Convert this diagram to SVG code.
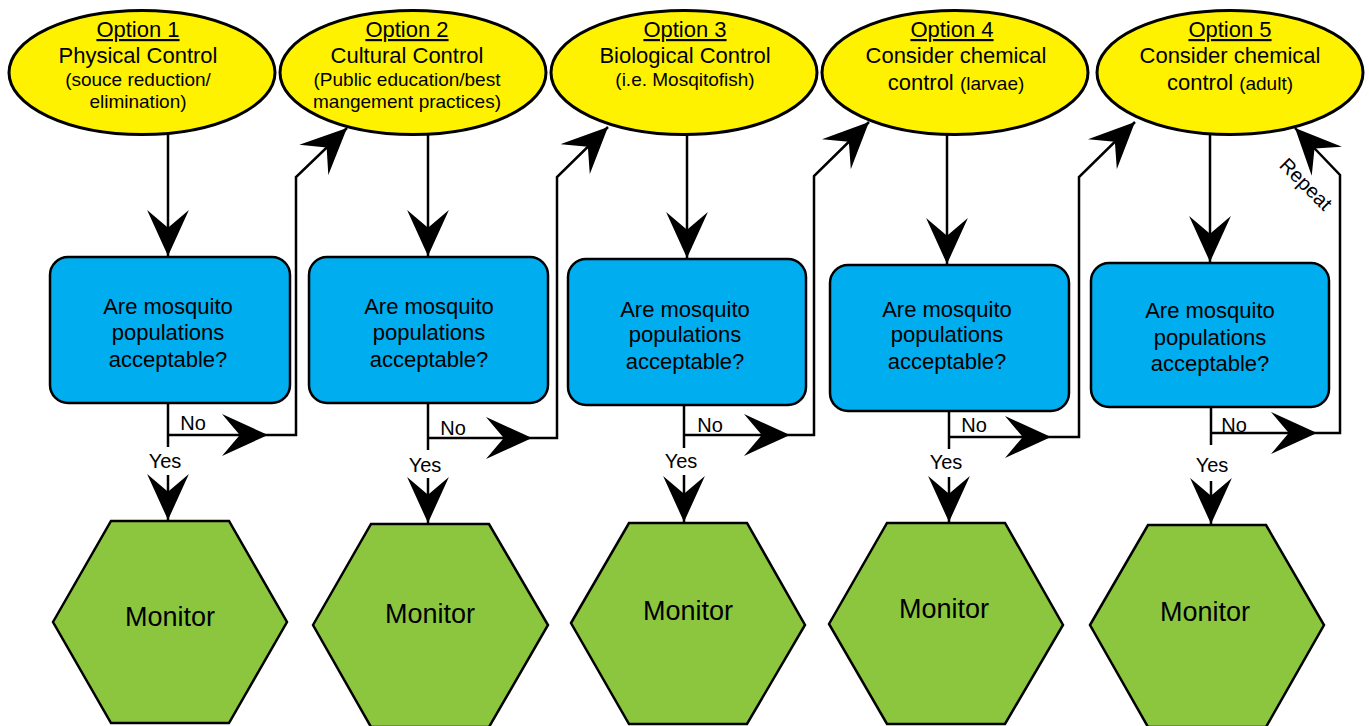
<svg xmlns="http://www.w3.org/2000/svg" width="1369" height="726" viewBox="0 0 1369 726">
<style>
.opt{fill:#FFF200;stroke:#000;stroke-width:3}
.box{fill:#00ADEF;stroke:#000;stroke-width:2.5}
.hex{fill:#8CC63F;stroke:#000;stroke-width:2.5}
text{font-family:"Liberation Sans",Arial,sans-serif;fill:#000;text-anchor:middle}
.t{font-size:22px}
.s{font-size:19px}
.lbl{font-size:20px}
.mon{font-size:27px}
.u{text-decoration:underline}
.c path{fill:none;stroke:#000;stroke-width:2.5}
</style>
<defs>
<marker id="ah" markerUnits="userSpaceOnUse" markerWidth="46" markerHeight="42" viewBox="0 0 44 40" refX="44" refY="20" orient="auto">
<path d="M0,0 L44,20 L0,40 L17,20 Z" fill="#000"/>
</marker>
</defs>
<rect width="1369" height="726" fill="#fff"/>

<g id="option1">
<ellipse class="opt" cx="142" cy="72.5" rx="133" ry="62"/>
<text class="t u" x="138" y="37">Option 1</text>
<text class="t" x="138" y="63">Physical Control</text>
<text class="s" x="138" y="86">(souce reduction/</text>
<text class="s" x="138" y="108">elimination)</text>
</g>
<g id="option2">
<ellipse class="opt" cx="413" cy="72.5" rx="133" ry="62"/>
<text class="t u" x="407" y="37">Option 2</text>
<text class="t" x="407" y="63">Cultural Control</text>
<text class="s" x="407" y="86">(Public education/best</text>
<text class="s" x="407" y="108">mangement practices)</text>
</g>
<g id="option3">
<ellipse class="opt" cx="684" cy="72.5" rx="133" ry="62"/>
<text class="t u" x="685" y="37">Option 3</text>
<text class="t" x="685" y="63">Biological Control</text>
<text class="s" x="685" y="86">(i.e. Mosqitofish)</text>
</g>
<g id="option4">
<ellipse class="opt" cx="955" cy="72.5" rx="133" ry="62"/>
<text class="t u" x="952" y="37">Option 4</text>
<text class="t" x="956" y="63">Consider chemical</text>
<text class="t" x="956" y="90">control <tspan class="s">(larvae)</tspan></text>
</g>
<g id="option5">
<ellipse class="opt" cx="1230" cy="72.5" rx="133" ry="62"/>
<text class="t u" x="1230" y="37">Option 5</text>
<text class="t" x="1230" y="63">Consider chemical</text>
<text class="t" x="1230" y="90">control <tspan class="s">(adult)</tspan></text>
</g>

<g id="decision1">
<rect class="box" x="50" y="257" width="240" height="146" rx="18"/>
<text class="t" x="168" y="314">Are mosquito</text>
<text class="t" x="168" y="340">populations</text>
<text class="t" x="168" y="367">acceptable?</text>
</g>
<g id="decision2">
<rect class="box" x="309" y="257" width="239" height="146" rx="18"/>
<text class="t" x="429" y="314">Are mosquito</text>
<text class="t" x="429" y="340">populations</text>
<text class="t" x="429" y="367">acceptable?</text>
</g>
<g id="decision3">
<rect class="box" x="568" y="259" width="238" height="146" rx="18"/>
<text class="t" x="685" y="317">Are mosquito</text>
<text class="t" x="685" y="342">populations</text>
<text class="t" x="685" y="369">acceptable?</text>
</g>
<g id="decision4">
<rect class="box" x="830" y="265" width="239" height="146" rx="18"/>
<text class="t" x="947" y="317">Are mosquito</text>
<text class="t" x="947" y="342">populations</text>
<text class="t" x="947" y="369">acceptable?</text>
</g>
<g id="decision5">
<rect class="box" x="1091" y="263" width="238" height="144" rx="18"/>
<text class="t" x="1210" y="318">Are mosquito</text>
<text class="t" x="1210" y="345">populations</text>
<text class="t" x="1210" y="371">acceptable?</text>
</g>

<g id="monitor1">
<polygon class="hex" points="53,622 111,521 229,521 287,622 229,723 111,723"/>
<text class="mon" x="170" y="626">Monitor</text>
</g>
<g id="monitor2">
<polygon class="hex" points="313,625 371,524 489,524 548,625 489,727 371,727"/>
<text class="mon" x="430" y="623">Monitor</text>
</g>
<g id="monitor3">
<polygon class="hex" points="571,623 629,523 747,523 805,625 747,724 629,724"/>
<text class="mon" x="688" y="620">Monitor</text>
</g>
<g id="monitor4">
<polygon class="hex" points="829,624 887,523 1005,523 1063,625 1005,724 887,724"/>
<text class="mon" x="944" y="618">Monitor</text>
</g>
<g id="monitor5">
<polygon class="hex" points="1090,625 1148,525 1266,525 1324,625 1266,727 1148,727"/>
<text class="mon" x="1205" y="621">Monitor</text>
</g>

<g id="connectors" class="c">
<path d="M168,135 L168,256" marker-end="url(#ah)"/>
<path d="M168,403 L168,447"/>
<path d="M168,435 L268,435" marker-end="url(#ah)"/>
<path d="M268,435 L296,435 L296,177 L347,128" marker-end="url(#ah)"/>
<path d="M168,475 L168,520" marker-end="url(#ah)"/>

<path d="M428,135 L428,256" marker-end="url(#ah)"/>
<path d="M428,403 L428,450"/>
<path d="M428,438 L532,438" marker-end="url(#ah)"/>
<path d="M532,438 L557,438 L557,177 L608,127" marker-end="url(#ah)"/>
<path d="M428,478 L428,523" marker-end="url(#ah)"/>

<path d="M687,135 L687,258" marker-end="url(#ah)"/>
<path d="M684,405 L684,448"/>
<path d="M684,435 L790,435" marker-end="url(#ah)"/>
<path d="M790,435 L814,435 L814,176 L869,122" marker-end="url(#ah)"/>
<path d="M684,475 L684,522" marker-end="url(#ah)"/>

<path d="M947,135 L947,264" marker-end="url(#ah)"/>
<path d="M949,411 L949,449"/>
<path d="M949,437 L1051,437" marker-end="url(#ah)"/>
<path d="M1051,437 L1079,437 L1079,177 L1135,122" marker-end="url(#ah)"/>
<path d="M949,477 L949,522" marker-end="url(#ah)"/>

<path d="M1210,135 L1210,262" marker-end="url(#ah)"/>
<path d="M1211,407 L1211,445"/>
<path d="M1211,433 L1317,433" marker-end="url(#ah)"/>
<path d="M1317,433 L1340,433 L1340,175 L1295,128" marker-end="url(#ah)"/>
<path d="M1211,481 L1211,524" marker-end="url(#ah)"/>
</g>

<g id="labels">
<text class="lbl" x="193" y="430">No</text>
<text class="lbl" x="165" y="468">Yes</text>
<text class="lbl" x="453" y="435">No</text>
<text class="lbl" x="425" y="472">Yes</text>
<text class="lbl" x="710" y="432">No</text>
<text class="lbl" x="681" y="468">Yes</text>
<text class="lbl" x="974" y="432">No</text>
<text class="lbl" x="946" y="469">Yes</text>
<text class="lbl" x="1234" y="432">No</text>
<text class="lbl" x="1212" y="472">Yes</text>
<text class="lbl" transform="translate(1306,184) rotate(45)" x="0" y="7">Repeat</text>
</g>
</svg>
